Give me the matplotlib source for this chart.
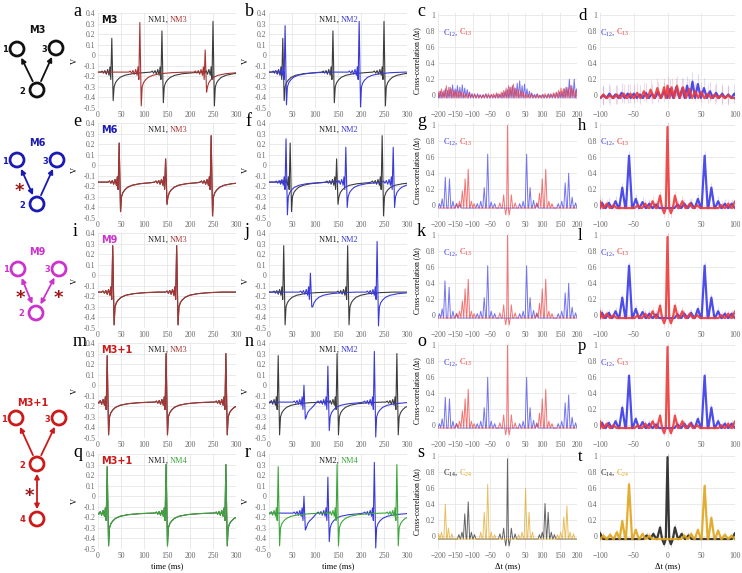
import matplotlib
matplotlib.use('Agg')
import matplotlib.pyplot as plt
from matplotlib.patches import Circle, FancyArrowPatch

plt.rcParams['font.family'] = ['Liberation Serif', 'DejaVu Serif']
plt.rcParams['mathtext.fontset'] = 'custom'
plt.rcParams['mathtext.rm'] = 'Liberation Serif'

# ---------------- data ----------------
BASE = -0.16
# spike shape: ms from peak, volts ('peak' / 'trough' filled per spike)
SPIKE_DT = [-24, -21, -18, -15, -12, -9, -6, -4, -2.2, 0, 3, 5, 8, 12, 18, 28, 45, 70, 100]
SPIKE_V = [-0.16, -0.15, -0.17, -0.145, -0.18, -0.135, -0.19, -0.11, -0.23,
           'peak', 'trough', -0.30, -0.26, -0.235, -0.21, -0.19, -0.175, -0.165, -0.16]

# spikes: (time ms, peak V, trough V)
M3_NM1 = [(30, 0.16, -0.43), (139, 0.23, -0.45), (250, 0.32, -0.48)]
M3_NM2 = [(35, 0.28, -0.47), (196, 0.32, -0.49)]
M3_NM3 = [(91, 0.31, -0.48), (233, 0.05, -0.35)]
M6_NM1 = [(46, 0.21, -0.44), (147, 0.06, -0.37), (246, 0.28, -0.48)]
M6_NM2 = [(37, 0.25, -0.47), (167, 0.17, -0.40), (270, 0.17, -0.40)]
M9_NM1 = [(32, 0.28, -0.47), (171, 0.28, -0.47)]
M9_NM2 = [(90, 0.02, -0.30), (235, 0.32, -0.48)]
M31_NM1 = [(20, 0.28, -0.47), (148, 0.30, -0.47), (278, 0.30, -0.47)]
M31_NM2 = [(76, 0.00, -0.32), (128, 0.18, -0.43), (229, 0.32, -0.49)]

# cross-correlation peaks: (lag ms, value)
C_M3_12 = [(-200, 0.03), (-193, 0.05), (-186, 0.04), (-179, 0.08), (-172, 0.06), (-165, 0.10),
           (-158, 0.13), (-151, 0.08), (-144, 0.12), (-137, 0.10), (-130, 0.13), (-123, 0.09),
           (-116, 0.07), (-109, 0.04), (-102, 0.02), (-94, 0.01), (-86, 0.02), (-78, 0.00),
           (-70, 0.01), (-62, 0.02), (-54, 0.00), (-46, 0.01), (-38, 0.00), (-30, 0.02),
           (-22, 0.01), (-14, 0.03), (-7, 0.05), (0, 0.07), (7, 0.10), (14, 0.12), (21, 0.09),
           (28, 0.15), (35, 0.18), (42, 0.12), (49, 0.14), (56, 0.08), (63, 0.05), (70, 0.03),
           (78, 0.01), (86, 0.02), (94, 0.00), (102, 0.01), (110, 0.00), (118, 0.02), (126, 0.01),
           (134, 0.02), (142, 0.03), (150, 0.04), (157, 0.05), (164, 0.08), (171, 0.10),
           (178, 0.20), (185, 0.12), (192, 0.20), (199, 0.08)]
C_M3_13 = [(-197, 0.05), (-190, 0.08), (-183, 0.06), (-176, 0.12), (-169, 0.10), (-162, 0.08),
           (-155, 0.06), (-148, 0.07), (-141, 0.05), (-134, 0.04), (-127, 0.03), (-119, 0.02),
           (-111, 0.03), (-103, 0.01), (-95, 0.02), (-87, 0.00), (-79, 0.01), (-71, 0.00),
           (-63, 0.01), (-55, 0.02), (-47, 0.01), (-40, 0.02), (-32, 0.03), (-25, 0.02),
           (-18, 0.04), (-11, 0.06), (-4, 0.09), (3, 0.12), (10, 0.10), (17, 0.14), (24, 0.09),
           (31, 0.07), (38, 0.05), (45, 0.04), (52, 0.02), (60, 0.01), (68, 0.02), (76, 0.00),
           (84, 0.01), (92, 0.00), (100, 0.01), (108, 0.02), (116, 0.01), (124, 0.02),
           (132, 0.03), (140, 0.04), (147, 0.06), (154, 0.09), (161, 0.08), (168, 0.10),
           (175, 0.09), (182, 0.12), (189, 0.08), (196, 0.06)]
C_M6_12 = [(-196, 0.02), (-188, 0.08), (-179, 0.35), (-167, 0.33), (-157, 0.05), (-147, 0.02),
           (-137, 0.01), (-87, 0.02), (-77, 0.05), (-67, 0.22), (-57, 0.64), (-47, 0.04),
           (-37, 0.02), (35, 0.02), (45, 0.05), (55, 0.64), (65, 0.22), (75, 0.06), (85, 0.02),
           (146, 0.02), (156, 0.05), (166, 0.28), (176, 0.40), (186, 0.10), (196, 0.03)]
C_M6_13 = [(-146, 0.02), (-138, 0.05), (-130, 0.18), (-122, 0.33), (-113, 0.45), (-104, 0.05),
           (-96, 0.02), (-22, 0.03), (-11, 0.13), (-5, -0.12), (0, 1.0), (5, -0.12), (11, 0.13),
           (22, 0.03), (84, 0.03), (92, 0.15), (100, 0.33), (110, 0.45), (119, 0.05),
           (128, 0.02)]
C_M9_12 = [(-196, 0.02), (-188, 0.08), (-180, 0.43), (-168, 0.35), (-157, 0.05), (-147, 0.02),
           (-87, 0.02), (-77, 0.05), (-67, 0.22), (-57, 0.62), (-47, 0.05), (-37, 0.02),
           (35, 0.02), (45, 0.05), (55, 0.62), (65, 0.22), (75, 0.06), (85, 0.02),
           (146, 0.02), (156, 0.05), (166, 0.28), (176, 0.40), (186, 0.10), (196, 0.03)]
C_M9_13 = C_M6_13
C_M31_12 = [(-196, 0.02), (-188, 0.08), (-179, 0.35), (-167, 0.33), (-157, 0.05), (-147, 0.02),
            (-87, 0.02), (-77, 0.05), (-67, 0.22), (-57, 0.60), (-47, 0.05), (-37, 0.02),
            (35, 0.02), (45, 0.05), (55, 0.60), (65, 0.22), (75, 0.06), (85, 0.02),
            (146, 0.02), (156, 0.05), (166, 0.28), (176, 0.38), (186, 0.10), (196, 0.03)]
C_M31_13 = C_M6_13
C_M31_14 = [(-140, 0.02), (-131, 0.05), (-123, 0.28), (-113, 0.43), (-104, 0.05), (-95, 0.02),
            (-22, 0.03), (-11, 0.10), (-5, -0.12), (0, 0.97), (5, -0.12), (11, 0.10), (22, 0.03),
            (92, 0.02), (100, 0.05), (108, 0.41), (117, 0.30), (126, 0.05), (135, 0.02)]
C_M31_24 = [(-198, 0.03), (-190, 0.05), (-179, 0.40), (-170, 0.10), (-160, 0.03), (-77, 0.05),
            (-67, 0.30), (-57, 0.65), (-47, 0.05), (-37, 0.02), (32, 0.02), (42, 0.05),
            (52, 0.60), (62, 0.30), (72, 0.05), (144, 0.02), (153, 0.05), (162, 0.24),
            (171, 0.38), (180, 0.05), (190, 0.03)]

D_M3_12 = [(-95, 0.00), (-86, 0.02), (-77, 0.01), (-68, 0.03), (-59, 0.02), (-50, 0.02), (-41, 0.01),
           (-32, 0.03), (-23, 0.02), (-14, 0.04), (-5, 0.05), (4, 0.08), (13, 0.10), (22, 0.09),
           (29, 0.12), (37, 0.17), (45, 0.14), (54, 0.09), (63, 0.05), (72, 0.03), (81, 0.02),
           (90, 0.01), (99, 0.02)]
D_M3_13 = [(-95, 0.01), (-85, 0.00), (-75, 0.01), (-65, 0.02), (-55, 0.02), (-45, 0.03), (-35, 0.05),
           (-25, 0.07), (-15, 0.09), (-5, 0.10), (0, 0.12), (6, 0.10), (14, 0.12), (23, 0.10),
           (32, 0.08), (41, 0.05), (50, 0.04), (60, 0.02), (70, 0.01), (80, 0.00), (90, 0.00)]
D_M6_12 = [(-97, 0.03), (-87, 0.03), (-77, 0.05), (-67, 0.22), (-57, 0.62), (-47, 0.08), (-37, 0.04),
           (-27, 0.02), (-17, 0.01), (15, 0.01), (25, 0.02), (35, 0.03), (45, 0.08), (55, 0.62),
           (65, 0.22), (75, 0.05), (85, 0.02), (95, 0.02)]
D_M6_13 = [(-100, 0.05), (-90, 0.02), (-80, 0.0), (-44, 0.0), (-33, 0.02), (-22, 0.05), (-11, 0.12),
           (-5, -0.10), (0, 0.98), (5, -0.10), (11, 0.12), (22, 0.05), (33, 0.02), (44, 0.0),
           (80, 0.0), (90, 0.02), (100, 0.05)]
D_M9_12 = D_M6_12
D_M9_13 = D_M6_13
D_M31_12 = D_M6_12
D_M31_13 = D_M6_13
D_M31_14 = [(-100, 0.04), (-31, 0.01), (-21, 0.03), (-11, 0.11), (-5, -0.10), (0, 0.99), (5, -0.10),
            (11, 0.11), (21, 0.03), (31, 0.01), (100, 0.04)]
D_M31_24 = [(-95, 0.01), (-85, 0.02), (-75, 0.05), (-67, 0.19), (-57, 0.65), (-47, 0.08), (-37, 0.03),
            (-27, 0.01), (25, 0.01), (35, 0.03), (45, 0.08), (55, 0.63), (65, 0.23), (75, 0.07),
            (85, 0.02), (95, 0.01)]

GRAY, DRED, BLUE, GREEN = '#3c3c3c', '#a83434', '#3a3ad8', '#3ca63c'
XBLUE, XRED, XBLACK, XGOLD = '#3a3ae8', '#ee3a3a', '#222222', '#e0a41c'
MOTIF_COLORS = {'M3': '#111111', 'M6': '#1a1ab4', 'M9': '#cc33cc', 'M3+1': '#cc1a1a'}

# ---------------- helpers ----------------
def spike_train(spikes):
    ts, vs = [0.0], [BASE]
    starts = [t + SPIKE_DT[0] for t, _, _ in spikes] + [1e9]
    for i, (t, peak, trough) in enumerate(spikes):
        for dt, v in zip(SPIKE_DT, SPIKE_V):
            x = t + dt
            if x >= starts[i + 1] or x <= ts[-1]:
                continue
            ts.append(x)
            vs.append(peak if v == 'peak' else trough if v == 'trough' else v)
    if ts[-1] < 300:
        ts.append(300)
        vs.append(BASE)
    return ts, vs


def xc_line(peaks, lo, hi, base=-0.035, hw=4.0):
    peaks = sorted(peaks)
    xs, ys = [lo], [base]
    for i, (lag, h) in enumerate(peaks):
        left = peaks[i - 1][0] if i > 0 else lo - 10
        right = peaks[i + 1][0] if i < len(peaks) - 1 else hi + 10
        a = lag - min(hw, (lag - left) / 2)
        b = lag + min(hw, (right - lag) / 2)
        if a > xs[-1]:
            xs.append(a); ys.append(base)
        xs.append(lag); ys.append(h)
        xs.append(b); ys.append(base)
    xs.append(hi); ys.append(base)
    return xs, ys


W, H = 742, 573
fig = plt.figure(figsize=(W / 100, H / 100), dpi=100)

COL_L = [98, 269, 438, 600]
COL_W = [138, 138, 139, 135]
ROW_T = [13, 123, 233, 343, 454]
ROW_H = 95


def make_ax(r, c):
    l, w = COL_L[c], COL_W[c]
    t = ROW_T[r]
    ax = fig.add_axes([l / W, 1 - (t + ROW_H) / H, w / W, ROW_H / H])
    for s in ax.spines.values():
        s.set_visible(False)
    ax.grid(color='#e6e6e6', lw=0.6)
    ax.set_axisbelow(True)
    ax.tick_params(length=0, labelsize=5.5, colors='#666666', pad=2)
    return ax


def two_color(ax, x, y, left, lc, right, rc, size=6):
    ax.text(x, y, left, color=lc, fontsize=size, ha='right', va='center', transform=ax.transAxes)
    ax.text(x, y, right, color=rc, fontsize=size, ha='left', va='center', transform=ax.transAxes)


def letter(c, r, ch, dx, size=13, dy=3):
    fig.text((COL_L[c] - dx) / W, 1 - (ROW_T[r] + dy) / H, ch, fontsize=size, va='baseline')


rows = [
    ('M3', [(M3_NM1, GRAY), (M3_NM3, DRED)], ('NM1, ', 'NM3', DRED),
     [(M3_NM1, GRAY), (M3_NM2, BLUE)], ('NM1, ', 'NM2', BLUE),
     (C_M3_12, C_M3_13), (D_M3_12, D_M3_13), ('12', '13', XBLUE, XRED), 0.12),
    ('M6', [(M6_NM1, GRAY), (M6_NM1, DRED)], ('NM1, ', 'NM3', DRED),
     [(M6_NM1, GRAY), (M6_NM2, BLUE)], ('NM1, ', 'NM2', BLUE),
     (C_M6_12, C_M6_13), (D_M6_12, D_M6_13), ('12', '13', XBLUE, XRED), 0.06),
    ('M9', [(M9_NM1, GRAY), (M9_NM1, DRED)], ('NM1, ', 'NM3', DRED),
     [(M9_NM1, GRAY), (M9_NM2, BLUE)], ('NM1, ', 'NM2', BLUE),
     (C_M9_12, C_M9_13), (D_M9_12, D_M9_13), ('12', '13', XBLUE, XRED), 0.05),
    ('M3+1', [(M31_NM1, GRAY), (M31_NM1, DRED)], ('NM1, ', 'NM3', DRED),
     [(M31_NM1, GRAY), (M31_NM2, BLUE)], ('NM1, ', 'NM2', BLUE),
     (C_M31_12, C_M31_13), (D_M31_12, D_M31_13), ('12', '13', XBLUE, XRED), 0.04),
    ('M3+1', [(M31_NM1, GRAY), (M31_NM1, GREEN)], ('NM1, ', 'NM4', GREEN),
     [(M31_NM2, BLUE), (M31_NM1, GREEN)], ('NM2, ', 'NM4', GREEN),
     (C_M31_14, C_M31_24), (D_M31_14, D_M31_24), ('14', '24', XBLACK, XGOLD), 0.04),
]

letters = iter('abcdefghijklmnopqrst')
for r, (motif, va_tr, va_lab, vb_tr, vb_lab, cpair, dpair, clab, err) in enumerate(rows):
    last = r == len(rows) - 1
    for c, (traces, lab) in enumerate([(va_tr, va_lab), (vb_tr, vb_lab)]):
        ax = make_ax(r, c)
        for spikes, col in traces:
            ts, vs = spike_train(spikes)
            ax.plot(ts, vs, color=col, lw=0.8)
        ax.set_xlim(0, 300)
        ax.set_ylim(-0.5, 0.4)
        ax.set_xticks(range(0, 301, 50))
        ax.set_yticks([-0.5, -0.4, -0.3, -0.2, -0.1, 0, 0.1, 0.2, 0.3, 0.4])
        ax.set_yticklabels(['-0.5', '-0.4', '-0.3', '-0.2', '-0.1', '0', '0.1', '0.2', '0.3', '0.4'])
        ax.set_ylabel('V', fontsize=6, labelpad=3)
        if c == 0:
            ax.text(0.02, 0.93, motif, color=MOTIF_COLORS[motif], fontsize=7, fontweight='bold',
                    family='DejaVu Sans', transform=ax.transAxes, va='center')
        two_color(ax, 0.52, 0.93, lab[0], '#222222', lab[1], lab[2])
        if last:
            ax.set_xlabel('time (ms)', fontsize=6, labelpad=2)
        letter(c, r, next(letters), 25 if c == 0 else 24)

    # thin cross-correlation panel
    ax = make_ax(r, 2)
    for peaks, col in zip(cpair, clab[2:]):
        xs, ys = xc_line(peaks, -200, 200)
        ax.plot(xs, ys, color=col, lw=0.7, alpha=0.7)
    ax.set_xlim(-200, 200)
    ax.set_ylim(-0.16, 1.03)
    ax.set_xticks(range(-200, 201, 50))
    ax.set_yticks([0, 0.2, 0.4, 0.6, 0.8, 1])
    ax.set_yticklabels(['0', '0.2', '0.4', '0.6', '0.8', '1'])
    ax.set_ylabel('Cross-correlation (\u0394t)', fontsize=5.5, labelpad=3)
    two_color(ax, 0.15, 0.8, r'C$_{%s}$, ' % clab[0], clab[2], r'C$_{%s}$' % clab[1], clab[3])
    if last:
        ax.set_xlabel('\u0394t (ms)', fontsize=6, labelpad=2)
    letter(2, r, next(letters), 21)

    # thick averaged cross-correlation panel
    ax = make_ax(r, 3)
    for peaks, col in zip(dpair, clab[2:]):
        lags = [p[0] for p in peaks]
        vals = [p[1] for p in peaks]
        ax.vlines(lags, [v - err for v in vals], [v + err for v in vals], color=col, lw=0.8,
                  alpha=0.18)
        xs, ys = xc_line(peaks, -100, 100, hw=4.5)
        ax.plot(xs, ys, color=col, lw=1.6, alpha=0.9)
    ax.set_xlim(-100, 100)
    ax.set_ylim(-0.16, 1.03)
    ax.set_xticks(range(-100, 101, 50))
    ax.set_yticks([0, 0.2, 0.4, 0.6, 0.8, 1])
    ax.set_yticklabels(['0', '0.2', '0.4', '0.6', '0.8', '1'])
    two_color(ax, 0.12, 0.8, r'C$_{%s}$, ' % clab[0], clab[2], r'C$_{%s}$' % clab[1], clab[3])
    if last:
        ax.set_xlabel('\u0394t (ms)', fontsize=6, labelpad=2)
    letter(3, r, next(letters), 22, size=12, dy=7)

# ---------------- motif diagrams ----------------
dg = fig.add_axes([0, 0, 1, 1], zorder=-1)
dg.set_xlim(0, W)
dg.set_ylim(H, 0)
dg.axis('off')

diagrams = [
    ('M3', (37, 30), {1: (17, 49), 3: (56, 48), 2: (37, 90)},
     [(2, 1, '-|>'), (2, 3, '-|>')], []),
    ('M6', (37, 143), {1: (17, 160), 3: (57, 160), 2: (37, 204)},
     [(1, 2, '<|-|>'), (2, 3, '-|>')], [(19, 188)]),
    ('M9', (37, 252), {1: (18, 269), 3: (59, 269), 2: (36, 313)},
     [(1, 2, '<|-|>'), (2, 3, '<|-|>')], [(20, 295), (58, 295)]),
    ('M3+1', (33, 403), {1: (16, 418), 3: (59, 418), 2: (37, 464), 4: (37, 519)},
     [(2, 1, '-|>'), (2, 3, '-|>'), (2, 4, '<|-|>')], [(29, 493)]),
]
for name, lpos, nodes, edges, stars in diagrams:
    col = MOTIF_COLORS[name]
    dg.text(lpos[0], lpos[1], name, color=col, fontsize=7, fontweight='bold', family='DejaVu Sans',
            ha='center', va='center')
    for k, (x, y) in nodes.items():
        dg.add_patch(Circle((x, y), 7, fill=False, ec=col, lw=2))
        dx = 12 if k in (1, 3) else 15
        dg.text(x - dx, y + 1, str(k), color=col, fontsize=6, fontweight='bold',
                family='DejaVu Sans', ha='center', va='center')
    for a, b, style in edges:
        dg.add_patch(FancyArrowPatch(nodes[a], nodes[b], arrowstyle=style, mutation_scale=7,
                                     color=col, lw=1.3, shrinkA=7, shrinkB=7))
    for sx, sy in stars:
        dg.text(sx, sy + 3, '*', color='#a01515', fontsize=13, fontweight='bold',
                family='DejaVu Sans', ha='center', va='center')

fig.savefig('out.png', dpi=100)
